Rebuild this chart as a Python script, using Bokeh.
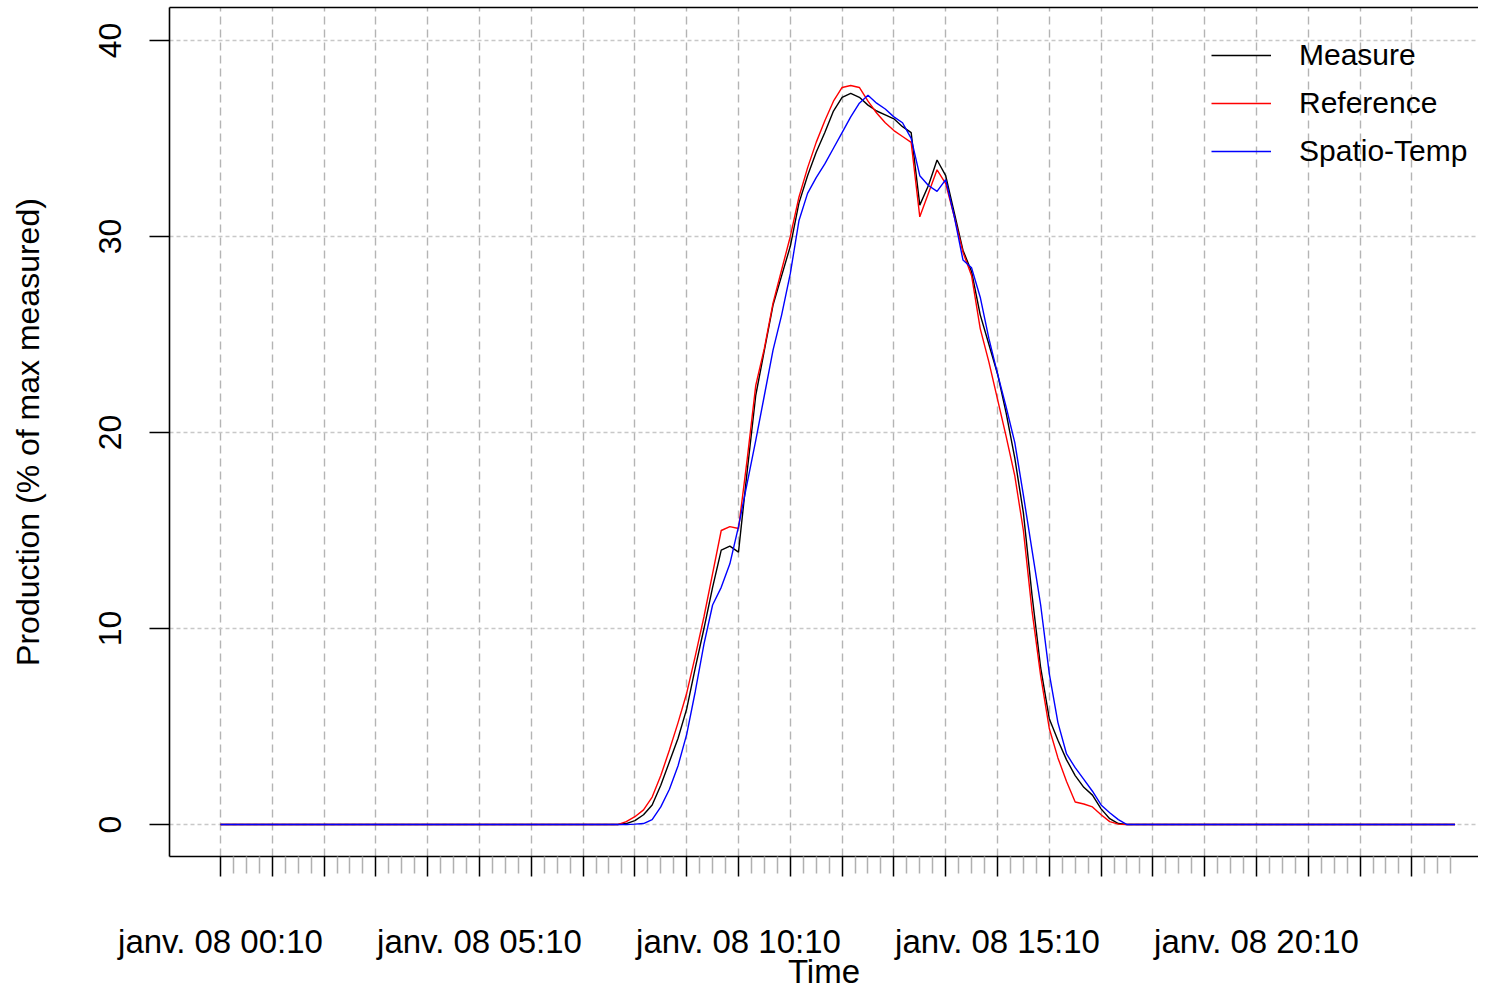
import pandas as pd
from bokeh.plotting import figure
from bokeh.models import Range1d, FixedTicker, LinearAxis, Legend, LegendItem, ColumnDataSource
from bokeh.embed import file_html
from bokeh.resources import INLINE

# ---------------- data (10-minute samples, janv. 08 00:10 -> 00:00) ----------------
start_time = "2015-01-08 00:10"
n_points = 144

night_before = [0.0] * 47   # 00:10 .. 07:50
night_after = [0.0] * 39    # 17:50 .. 00:00

measure_day = [0.05, 0.2, 0.5, 1.0, 2.0, 3.2, 4.4, 5.9, 8.0, 10.0,
               12.1, 14.0, 14.2, 13.9, 18.0, 21.9, 24.2, 26.5, 28.0, 29.5,
               31.7, 33.1, 34.3, 35.3, 36.4, 37.1, 37.3, 37.1, 36.7, 36.4,
               36.2, 36.0, 35.6, 35.3, 31.6, 32.6, 33.9, 33.1, 31.2, 29.3,
               28.2, 26.0, 24.5, 23.0, 21.0, 18.7, 15.9, 11.7, 8.0, 5.4,
               4.3, 3.3, 2.5, 1.9, 1.5, 0.8, 0.3, 0.05]

reference_day = [0.15, 0.4, 0.75, 1.4, 2.5, 3.8, 5.2, 6.7, 8.6, 10.6,
                 12.8, 15.0, 15.2, 15.1, 18.6, 22.4, 24.3, 26.6, 28.3, 30.0,
                 32.0, 33.5, 34.8, 35.9, 36.9, 37.6, 37.7, 37.6, 36.9, 36.3,
                 35.8, 35.4, 35.1, 34.8, 31.0, 32.2, 33.4, 32.7, 31.0, 29.2,
                 28.0, 25.3, 23.6, 21.7, 19.8, 17.8, 15.0, 10.9, 7.6, 4.9,
                 3.4, 2.2, 1.15, 1.05, 0.9, 0.5, 0.15, 0.02]

spatiotemp_day = [0.0, 0.02, 0.05, 0.25, 0.9, 1.8, 3.0, 4.6, 6.8, 9.2,
                  11.2, 12.1, 13.3, 15.2, 17.4, 19.6, 21.9, 24.2, 26.0, 28.1,
                  30.8, 32.2, 33.0, 33.7, 34.5, 35.3, 36.1, 36.8, 37.2, 36.8,
                  36.5, 36.1, 35.8, 35.0, 33.1, 32.6, 32.3, 32.9, 31.0, 28.8,
                  28.4, 26.9, 24.8, 23.0, 21.3, 19.5, 16.8, 14.0, 11.2, 7.7,
                  5.2, 3.6, 2.9, 2.3, 1.7, 1.0, 0.6, 0.25]

measure = night_before + measure_day + night_after
reference = night_before + reference_day + night_after
spatiotemp = night_before + spatiotemp_day + night_after

series_names = ["Measure", "Reference", "Spatio-Temp"]
series_colors = ["black", "red", "blue"]

y_ticks = [0, 10, 20, 30, 40]
labelled_hours = [0, 5, 10, 15, 20]
tick_labels = ["janv. 08 00:10", "janv. 08 05:10", "janv. 08 10:10",
               "janv. 08 15:10", "janv. 08 20:10"]
x_title = "Time"
y_title = "Production (% of max measured)"

# ---------------- build ----------------
times = pd.date_range(start_time, periods=n_points, freq="10min")
t0 = times[0]
source = ColumnDataSource(dict(t=times, measure=measure, reference=reference,
                               spatiotemp=spatiotemp))

def ms(ts):
    return float((ts - pd.Timestamp("1970-01-01")) / pd.Timedelta(milliseconds=1))

major_ms = [ms(t0 + pd.Timedelta(hours=h)) for h in range(24)]
minor_ms = [ms(t0 + pd.Timedelta(minutes=15 * k)) for k in range(96) if k % 4 != 0]
overrides = {m: "" for m in major_ms}
for h, lab in zip(labelled_hours, tick_labels):
    overrides[major_ms[h]] = lab

x_start = t0 - pd.Timedelta(hours=0.9846)
x_end = t0 + pd.Timedelta(hours=24.286)

FONT = "Liberation Sans"

p = figure(width=1478, height=992, x_axis_type="datetime",
           x_range=Range1d(x_start, x_end), y_range=Range1d(-1.63, 41.68),
           output_backend="svg", toolbar_location=None,
           min_border_left=169, min_border_right=0, min_border_top=7,
           min_border_bottom=135)
p.outline_line_color = None
p.background_fill_color = "white"
p.border_fill_color = "white"

# x axis
xa = p.xaxis[0]
xa.ticker = FixedTicker(ticks=major_ms, minor_ticks=minor_ms)
xa.major_label_overrides = overrides
xa.major_tick_out = 20
xa.major_tick_in = 0
xa.minor_tick_out = 17
xa.minor_tick_in = 0
xa.major_tick_line_color = "black"
xa.major_tick_line_width = 1.5
xa.minor_tick_line_color = "#b0b0b0"
xa.minor_tick_line_width = 1.5
xa.axis_line_color = "black"
xa.axis_line_width = 1.6
xa.major_label_text_font = FONT
xa.major_label_text_font_size = "33px"
xa.major_label_text_color = "black"
xa.major_label_standoff = 46
xa.axis_label = x_title
xa.axis_label_text_font = FONT
xa.axis_label_text_font_size = "33px"
xa.axis_label_text_font_style = "normal"
xa.axis_label_text_color = "black"
xa.axis_label_standoff = -10

# y axis
ya = p.yaxis[0]
ya.ticker = FixedTicker(ticks=y_ticks, minor_ticks=[])
ya.major_tick_out = 20
ya.major_tick_in = 0
ya.major_tick_line_color = "black"
ya.major_tick_line_width = 1.5
ya.axis_line_color = "black"
ya.axis_line_width = 1.6
ya.major_label_orientation = "vertical"
ya.major_label_text_font = FONT
ya.major_label_text_font_size = "32px"
ya.major_label_text_color = "black"
ya.major_label_standoff = 28
ya.axis_label = y_title
ya.axis_label_text_font = FONT
ya.axis_label_text_font_size = "32px"
ya.axis_label_text_font_style = "normal"
ya.axis_label_text_color = "black"
ya.axis_label_standoff = 51

# top border line
top = LinearAxis(ticker=FixedTicker(ticks=[], minor_ticks=[]),
                 major_tick_out=0, major_tick_in=0, minor_tick_out=0, minor_tick_in=0,
                 major_label_standoff=0, axis_line_color="black", axis_line_width=1.6)
p.add_layout(top, "above")

# grids
p.xgrid.grid_line_color = "#b4b4b4"
p.xgrid.grid_line_dash = "8 5"
p.xgrid.grid_line_width = 1.4
p.ygrid.grid_line_color = "#c8c8c8"
p.ygrid.grid_line_dash = "4 3"
p.ygrid.grid_line_width = 1.4

renderers = []
for col, name, color in zip(["measure", "reference", "spatiotemp"], series_names, series_colors):
    r = p.line("t", col, source=source, line_color=color, line_width=1.4)
    renderers.append(r)

legend = Legend(items=[LegendItem(label=n, renderers=[r]) for n, r in zip(series_names, renderers)],
                location=(1042, 687), border_line_color=None, background_fill_alpha=0,
                label_text_font=FONT, label_text_font_size="30px", label_text_color="black",
                glyph_width=60, glyph_height=36, label_height=36, spacing=12,
                padding=10, label_standoff=28, margin=0)
p.add_layout(legend)

open("out.html", "w").write(file_html(p, INLINE))
